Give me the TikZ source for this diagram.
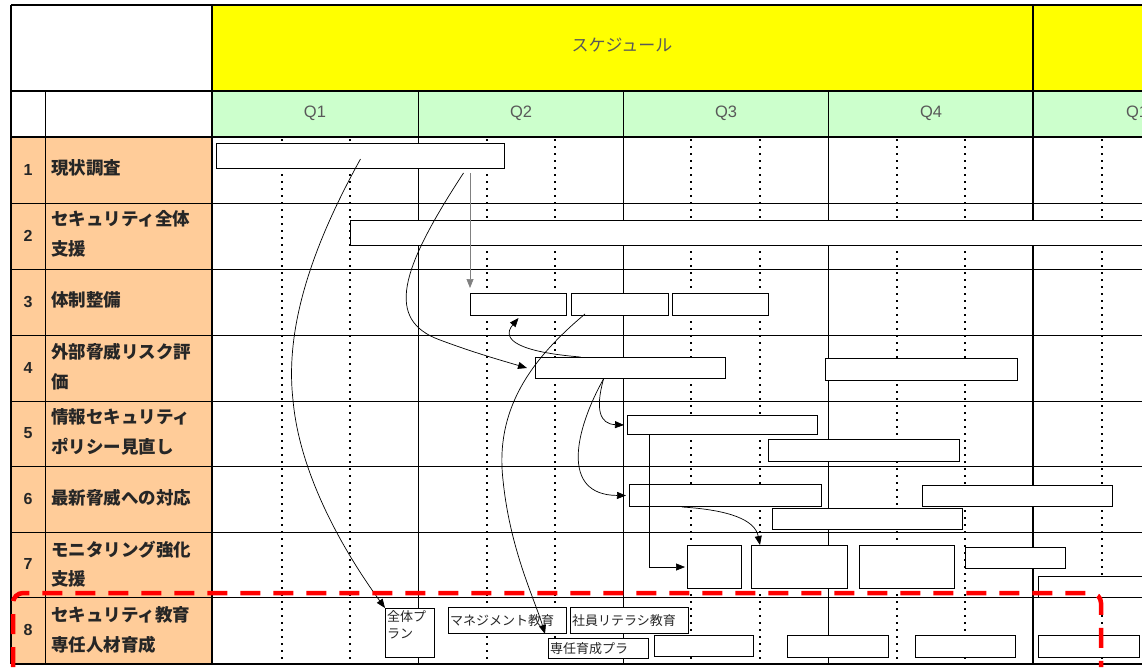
\documentclass[tikz,border=0pt]{standalone}
\usepackage{fontspec}
\usepackage{tikz}
\usetikzlibrary{arrows.meta}
\setmainfont{Liberation Sans}
\newfontfamily\jp{Noto Sans CJK JP}
\definecolor{headyellow}{RGB}{255,255,0}
\definecolor{quartergreen}{RGB}{204,255,204}
\definecolor{taskpeach}{RGB}{255,204,153}
\definecolor{labelgray}{RGB}{89,89,89}
\definecolor{focusred}{RGB}{255,0,0}

\tikzset{
  bar/.style={draw, fill=white, line width=1pt, inner sep=0pt, anchor=north west},
  dotline/.style={line width=2pt, dash pattern=on 2pt off 5pt},
  thinline/.style={line width=0.9pt},
  thickline/.style={line width=2.8pt},
  link/.style={-{Triangle[length=9pt,width=7pt]}, line width=0.7pt},
  tasknum/.style={font=\bfseries\fontsize{16}{18}\selectfont, text=black!85},
  tasklabel/.style={font=\jp\bfseries\fontsize{17.5}{29.5}\selectfont, text=black!85, anchor=west, align=left, inner sep=0pt},
  quarter/.style={font=\fontsize{16.5}{18}\selectfont, text=labelgray},
  bartext/.style={font=\jp\fontsize{13}{17}\selectfont, text=black!85, inner sep=2pt, align=left},
}

\begin{document}
\begin{tikzpicture}[x=1pt, y=-1pt]
\clip (0,0) rectangle (1142,667);
\fill[white] (0,0) rectangle (1142,667);

% header and task column
\fill[headyellow] (212,5) rectangle (1142,91);
\fill[quartergreen] (212,91) rectangle (1142,137);
\fill[taskpeach] (11,137) rectangle (212,664);

% grid
\foreach \x in {282,350,487,555,691,760,897,965,1102}
  \draw[dotline] (\x,139) -- (\x,664);
\foreach \y in {203,269,335,401,466,532,597}
  \draw[thinline] (11,\y) -- (1142,\y);
\foreach \x in {45,418,623,828}
  \draw[thinline] (\x,91) -- (\x,664);
\draw[thickline] (11,5) -- (1142,5) (11,91) -- (1142,91) (11,137) -- (1142,137) (11,664) -- (1142,664);
\draw[thickline] (11,5) -- (11,664) (212,5) -- (212,664) (1033,5) -- (1033,664);

\node[font=\jp\fontsize{17}{19}\selectfont, text=labelgray] (schedule) at (622,45) {スケジュール};
\foreach \q/\x in {Q1/315, Q2/521, Q3/726, Q4/931, Q1/1137}
  \node[quarter] (q-\x) at (\x,113) {\q};

\foreach \n/\y in {1/170, 2/236, 3/302, 4/368, 5/433, 6/499, 7/564, 8/630}
  \node[tasknum] (num\n) at (28,\y) {\n};
\node[tasklabel] (task1) at (51,168) {現状調査};
\node[tasklabel] (task2) at (51,234) {セキュリティ全体\\支援};
\node[tasklabel] (task3) at (51,300) {体制整備};
\node[tasklabel] (task4) at (51,367) {外部脅威リスク評\\価};
\node[tasklabel] (task5) at (51,432) {情報セキュリティ\\ポリシー見直し};
\node[tasklabel] (task6) at (51,498) {最新脅威への対応};
\node[tasklabel] (task7) at (51,564) {モニタリング強化\\支援};
\node[tasklabel] (task8) at (51,630) {セキュリティ教育\\専任人材育成};

% schedule bars
\node[bar, minimum width=288pt, minimum height=25pt] (t1) at (216,143) {};
\node[bar, minimum width=820pt, minimum height=25pt] (t2) at (350,220) {};
\node[bar, minimum width=96pt, minimum height=22pt] (t3a) at (470,293) {};
\node[bar, minimum width=97pt, minimum height=22pt] (t3b) at (571,293) {};
\node[bar, minimum width=96pt, minimum height=22pt] (t3c) at (672,293) {};
\node[bar, minimum width=190pt, minimum height=21pt] (t4a) at (535,357) {};
\node[bar, minimum width=192pt, minimum height=22pt] (t4b) at (825,358) {};
\node[bar, minimum width=190pt, minimum height=19pt] (t5a) at (627,415) {};
\node[bar, minimum width=191pt, minimum height=22pt] (t5b) at (768,439) {};
\node[bar, minimum width=192pt, minimum height=22pt] (t6a) at (629,484) {};
\node[bar, minimum width=190pt, minimum height=21pt] (t6b) at (772,508) {};
\node[bar, minimum width=190pt, minimum height=21pt] (t6c) at (922,485) {};
\node[bar, minimum width=54pt, minimum height=43pt] (t7a) at (687,545) {};
\node[bar, minimum width=96pt, minimum height=43pt] (t7b) at (751,545) {};
\node[bar, minimum width=95pt, minimum height=43pt] (t7c) at (859,545) {};
\node[bar, minimum width=100pt, minimum height=21pt] (t7d) at (965,547) {};
\node[bar, minimum width=120pt, minimum height=21pt] (t7e) at (1038,576) {};
\node[bar, minimum width=49pt, minimum height=49pt, label={[bartext, anchor=north west]north west:全体プ\\ラン}] (t8a) at (385,608) {};
\node[bar, minimum width=118pt, minimum height=26pt, label={[bartext, anchor=west]west:マネジメント教育}] (t8b) at (448,607) {};
\node[bar, minimum width=118pt, minimum height=26pt, label={[bartext, anchor=west]west:社員リテラシ教育}] (t8c) at (570,607) {};
\node[bar, minimum width=100pt, minimum height=20pt, label={[bartext, anchor=west]west:専任育成プラ}] (t8d) at (548,638) {};
\node[bar, minimum width=99pt, minimum height=21pt] (t8e) at (654,635) {};
\node[bar, minimum width=101pt, minimum height=22pt] (t8f) at (787,635) {};
\node[bar, minimum width=100pt, minimum height=22pt] (t8g) at (915,635) {};
\node[bar, minimum width=101pt, minimum height=22pt] (t8h) at (1038,635) {};

% dependencies
\draw[link] ([yshift=10pt]t1.south) .. controls (310,250) and (285,330) .. (293,400) .. controls (300,480) and (350,560) .. (t8a.north west);
\draw[link] ([shift={(103pt,-4pt)}]t1.south) .. controls (400,270) and (385,320) .. (440,340) .. controls (475,353) and (500,360) .. ([xshift=-8pt]t4a.west);
\draw[link, draw=gray, fill=black, shorten <=4pt, shorten >=5pt] (t3a.north west |- t1.south) -- (t3a.north west);
\draw[link] ([xshift=-50pt]t4a.north) .. controls (520,352) and (500,340) .. ([yshift=-2pt]t3a.south);
\draw[link] ([shift={(14pt,2pt)}]t3b.south west) .. controls (530,360) and (495,410) .. (503,480) .. controls (510,550) and (535,600) .. ([shift={(-3pt,4pt)}]t8d.north west);
\draw[link] ([xshift=-27pt]t4a.south) .. controls (595,410) and (600,424) .. ([xshift=-3pt]t5a.west);
\draw[link] ([xshift=-27pt]t4a.south) .. controls (575,430) and (560,495) .. ([xshift=-3pt]t6a.west);
\draw[link] ([xshift=22pt]t5a.south west) |- ([xshift=-2pt]t7a.west);
\draw[link] ([xshift=53pt]t6a.south west) .. controls (730,510) and (755,520) .. ([xshift=9pt]t7b.north west);

\draw[focusred, line width=4.5pt, dash pattern=on 20pt off 13pt, rounded corners=10pt] (13,667) -- (13,593) -- (1101,593) -- (1101,667);
\end{tikzpicture}
\end{document}
